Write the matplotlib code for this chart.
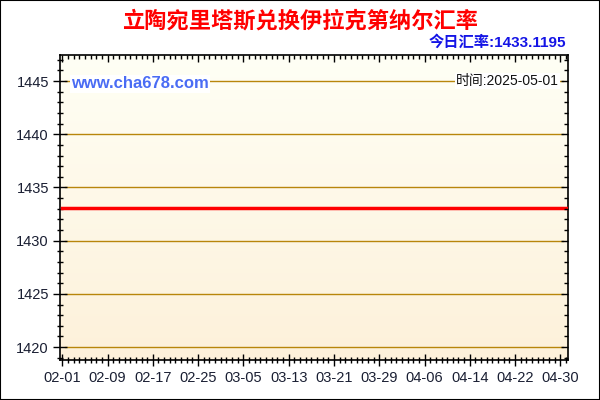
import numpy as np
import pandas as pd
import matplotlib
matplotlib.use("Agg")
import matplotlib.pyplot as plt
import matplotlib.dates as mdates
from matplotlib.patches import Rectangle

plt.rcParams['font.family'] = ['Liberation Sans', 'Noto Sans CJK SC', 'DejaVu Sans']

title = "立陶宛里塔斯兑换伊拉克第纳尔汇率"
rate_text = "今日汇率:1433.1195"
site_text = "www.cha678.com"
date_text = "时间:2025-05-01"

# daily rate, flat over the whole window
dates = pd.date_range("2025-02-01", "2025-05-01", freq="D")
rates = [1433.1195] * len(dates)
rate_now = 1433.1195

fig = plt.figure(figsize=(6, 4), dpi=100)
fig.patch.set_facecolor("white")
fig.patches.append(Rectangle((0, 0), 1, 1, transform=fig.transFigure,
                             fill=False, edgecolor="black", linewidth=1.5))

pos = [0.1, 0.1, 0.8467, 0.7625]
ax = fig.add_axes(pos)

x0 = mdates.date2num(dates[0]) - 0.4
x1 = mdates.date2num(dates[0]) + 89.35
y0 = rate_now * 0.99
y1 = rate_now * 1.01

# background gradient
grad = np.linspace(0, 1, 256).reshape(-1, 1)
top = np.array([255, 255, 245]) / 255
bot = np.array([253, 241, 218]) / 255
img = top + (bot - top) * grad[:, :, None]
ax.imshow(img, extent=[x0, x1, y0, y1], aspect="auto", origin="upper", zorder=0)

for v in range(1420, 1446, 5):
    ax.plot([x0 + 0.8, x1 - 0.8], [v, v], color="#b8860b", linewidth=1, zorder=1)

ax.plot(dates, rates, color="#ff0000", linewidth=2.5, zorder=3)

ticks = [mdates.date2num(dates[0]) + 8 * i for i in range(12)]


def setup(a):
    a.set_xlim(x0, x1)
    a.set_ylim(y0, y1)
    a.set_xticks(ticks)
    a.xaxis.set_minor_locator(mdates.DayLocator())
    a.set_yticks(range(1420, 1446, 5))
    a.yaxis.set_minor_locator(matplotlib.ticker.MultipleLocator(1))


setup(ax)
ax.xaxis.set_major_formatter(mdates.DateFormatter("%m-%d"))
ax.tick_params(axis="both", which="both", top=False, right=False,
               labelsize=10.5, labelcolor="#1a1f33", color="black")
ax.tick_params(axis="x", which="major", direction="inout", length=8, width=1, pad=4)
ax.tick_params(axis="x", which="minor", direction="inout", length=5, width=1)
ax.tick_params(axis="y", which="major", direction="inout", length=10, width=1, pad=3)
ax.tick_params(axis="y", which="minor", direction="inout", length=5, width=1)
for s in ax.spines.values():
    s.set_linewidth(1.2)
    s.set_color("black")

# top and right ticks point inward only
ax2 = fig.add_axes(pos, frameon=False)
setup(ax2)
ax2.patch.set_visible(False)
ax2.tick_params(axis="both", which="both", direction="in", bottom=False, left=False,
                top=True, right=True, labelbottom=False, labelleft=False, color="black")
ax2.tick_params(which="major", length=5, width=1)
ax2.tick_params(which="minor", length=3, width=1)

fig.text(0.5, 0.948, title, ha="center", va="center", fontsize=16,
         fontweight="bold", color="#ff0000",
         family=['Noto Sans CJK SC', 'DejaVu Sans'])
fig.text(0.943, 0.893, rate_text, ha="right", va="center", fontsize=11,
         fontweight="bold", color="#1414e6",
         family=['Liberation Sans', 'Noto Sans CJK SC'])
ax.text(0.022, 0.905, site_text, transform=ax.transAxes, ha="left", va="center",
        fontsize=12, fontweight="bold", color="#4a6cf4", zorder=4,
        bbox=dict(facecolor="white", edgecolor="none", pad=1))
ax.text(0.982, 0.915, date_text, transform=ax.transAxes, ha="right", va="center",
        fontsize=10, color="#111111", zorder=4,
        family=['Liberation Sans', 'Noto Sans CJK SC'],
        bbox=dict(facecolor="white", edgecolor="none", pad=0.5))

fig.savefig("out.png", dpi=100)
